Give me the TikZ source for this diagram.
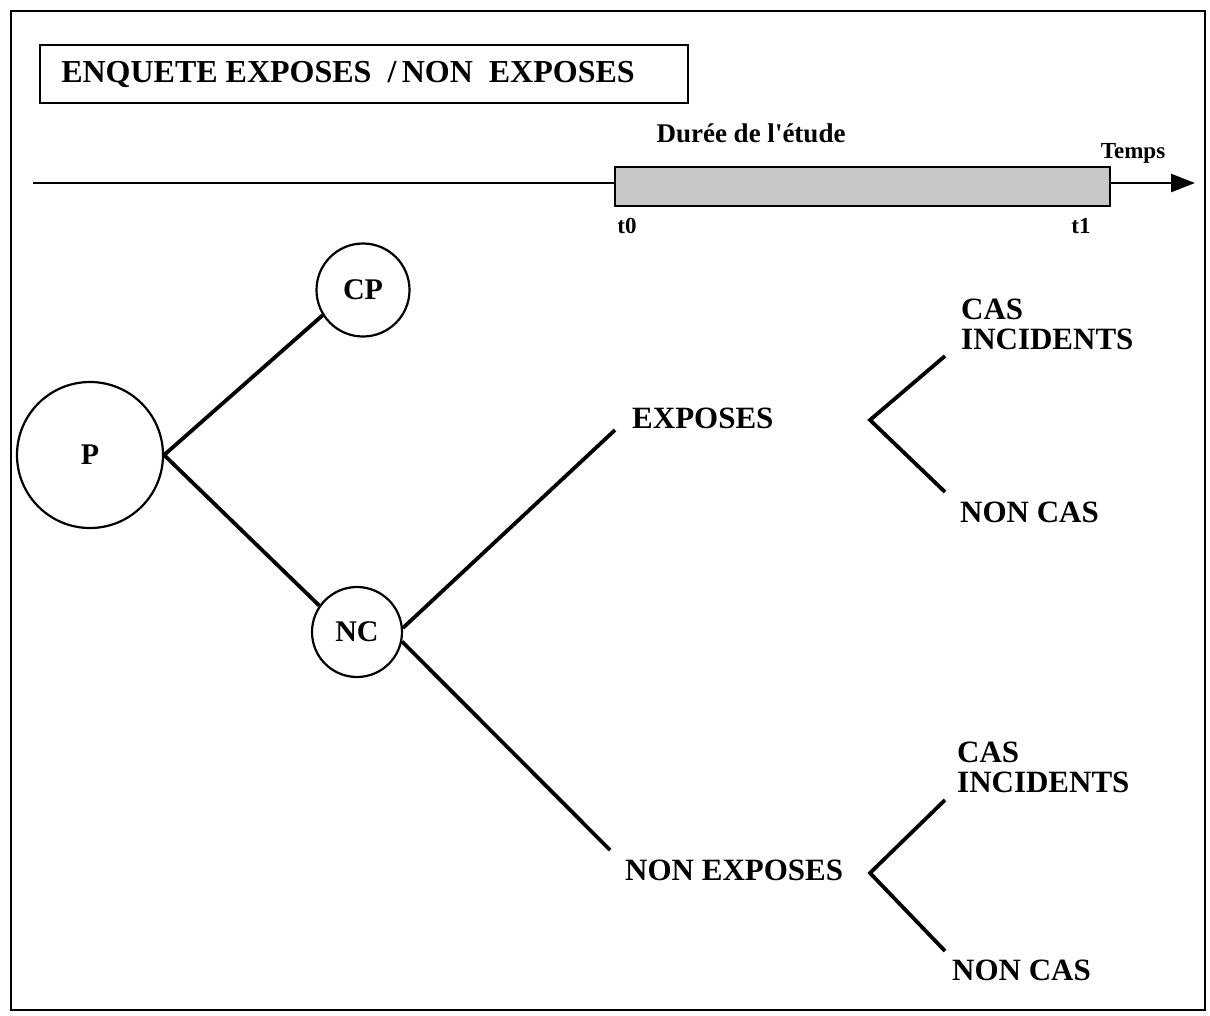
\documentclass[tikz,border=0pt]{standalone}
\usepackage{fontspec}
\setmainfont{Liberation Serif}[Ligatures=TeXOff]
\usetikzlibrary{arrows.meta}
\begin{document}
\begin{tikzpicture}[x=1pt,y=-1pt,
  lbl/.style={font=\fontsize{31}{30}\selectfont\bfseries, inner sep=0pt, align=left},
  small/.style={font=\fontsize{23}{24}\selectfont\bfseries, inner sep=0pt},
  circ/.style={draw, line width=2.2pt, circle, inner sep=0pt, font=\fontsize{30}{30}\selectfont\bfseries},
  branch/.style={line width=3.8pt},
  frameline/.style={line width=2.6pt}]
\useasboundingbox (0,0) rectangle (1210,1015);
% outer frame
\draw[frameline] (11,11) rectangle (1205,1010);
% title
\node[draw, line width=2.6pt, minimum width=648pt, minimum height=58pt, inner sep=0pt,
      font=\fontsize{32}{32}\selectfont\bfseries] (title) at (364,74)
      {\hspace*{-32pt}ENQUETE EXPOSES\ \ /\,NON\ \ EXPOSES};
% timeline
\node[draw, line width=2.6pt, fill=black!22, minimum width=495pt, minimum height=39pt, inner sep=0pt] (study) at (862.5,186.5) {};
\coordinate (tstart) at (33,183);
\coordinate (tend) at (1195,183);
\draw[line width=2.4pt] (tstart) -- (study.west |- tstart);
\draw[line width=2.4pt, -{Triangle[length=24pt,width=18pt]}] (study.east |- tend) -- (tend);
\node[small, font=\fontsize{27}{28}\selectfont\bfseries] (duree) at (751,133) {Durée de l'étude};
\node[small] (temps) at (1133,153) {Temps};
\node[small] (t0) at (627,226) {t0};
\node[small] (t1) at (1081,226) {t1};
% circles
\node[circ, minimum width=146pt] (P) at (90,455) {P};
\node[circ, minimum width=93pt] (CP) at (363,290) {CP};
\node[circ, minimum width=90pt] (NC) at (357,632) {NC};
% labels
\node[lbl, anchor=west] (EXP) at (632,418) {EXPOSES};
\node[lbl, anchor=west] (NEXP) at (625,870) {NON EXPOSES};
\node[lbl, anchor=west] (CI1) at (961,324) {CAS\\INCIDENTS};
\node[lbl, anchor=west] (NC1) at (960,512) {NON CAS};
\node[lbl, anchor=west] (CI2) at (957,767) {CAS\\INCIDENTS};
\node[lbl, anchor=west] (NC2) at (952,970) {NON CAS};
% free ends of branches
\coordinate (eEXP) at (615,430);
\coordinate (eNEXP) at (610,850);
\coordinate (f1) at (870,420);
\coordinate (f1a) at (945,356);
\coordinate (f1b) at (945,492);
\coordinate (f2) at (870,873);
\coordinate (f2a) at (945,800);
\coordinate (f2b) at (945,951);
% branches
\draw[branch] (P.east) -- (CP.212);
\draw[branch] (P.east) -- (NC.145);
\draw[branch] (NC.5) -- (eEXP);
\draw[branch] (NC.-12) -- (eNEXP);
\draw[branch, line join=miter] (f1a) -- (f1) -- (f1b);
\draw[branch, line join=miter] (f2a) -- (f2) -- (f2b);
\end{tikzpicture}
\end{document}
